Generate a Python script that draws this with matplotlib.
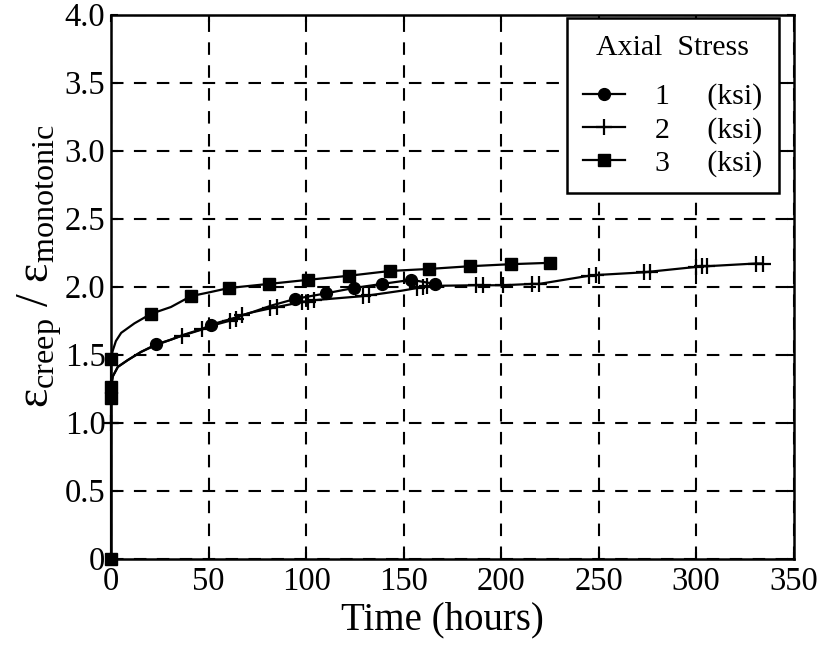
import numpy as np
import matplotlib.pyplot as plt

# =========================================
# Data
# =========================================
# series 1 (1 ksi, circles)
t1 = [0, 0.9, 3.5, 8.6, 15.4, 23, 30.7, 37, 47, 51, 61, 72, 82,
      94.5, 110, 124.5, 139, 154, 166]
y1 = [1.26, 1.34, 1.41, 1.46, 1.52, 1.575, 1.61, 1.645, 1.69, 1.72, 1.76,
      1.81, 1.86, 1.91, 1.95, 1.99, 2.02, 2.05, 2.02]
mark1 = [5, 9, 13, 14, 15, 16, 17, 18]

# series 2 (2 ksi, plus)
t2 = [0, 0, 0.9, 3.5, 8.6, 15.4, 23, 30.7, 36.6, 46.8, 51, 61, 64, 67, 72,
      81.7, 85, 92, 98, 101, 104, 129, 132, 149, 157, 160, 162, 187, 190.6,
      200.8, 216, 219.5, 245, 248.4, 273, 276.4, 300, 303, 305.4, 330.5, 334]
y2 = [1.0, 1.26, 1.34, 1.41, 1.46, 1.52, 1.57, 1.61, 1.64, 1.685, 1.71, 1.75,
      1.76, 1.79, 1.81, 1.84, 1.85, 1.87, 1.89, 1.89, 1.90, 1.93, 1.935, 1.97,
      1.99, 2.0, 2.005, 2.01, 2.01, 2.01, 2.02, 2.02, 2.08, 2.085, 2.105,
      2.11, 2.145, 2.15, 2.15, 2.17, 2.17]
mark2 = [0, 8, 9, 11, 12, 13, 15, 16, 18, 19, 20, 21, 22, 24, 25, 26, 27,
         28, 29, 30, 31, 32, 33, 34, 35, 36, 37, 38, 39, 40]

# series 3 (3 ksi, squares)
t3 = [0, 0, 0, 0, 0.9, 2.5, 5.2, 12, 20.5, 30.7, 41, 51, 60.5, 81, 101,
      122, 143, 163, 184, 205, 225]
y3 = [0, 1.18, 1.26, 1.47, 1.53, 1.6, 1.66, 1.73, 1.80, 1.85, 1.93, 1.96,
      1.99, 2.02, 2.05, 2.08, 2.115, 2.13, 2.15, 2.165, 2.175]
mark3 = [0, 1, 2, 3, 8, 10, 12, 13, 14, 15, 16, 17, 18, 19, 20]

labels = ['1     (ksi)', '2     (ksi)', '3     (ksi)']
x_ticks = [0, 50, 100, 150, 200, 250, 300, 350]
y_ticks = [0, 0.5, 1.0, 1.5, 2.0, 2.5, 3.0, 3.5, 4.0]
y_ticklabels = ['0', '0.5', '1.0', '1.5', '2.0', '2.5', '3.0', '3.5', '4.0']

# =========================================
# Style
# =========================================
plt.rcParams['font.family'] = ['Liberation Serif', 'DejaVu Serif']
plt.rcParams['mathtext.fontset'] = 'custom'
plt.rcParams['mathtext.rm'] = 'Liberation Serif'
plt.rcParams['mathtext.it'] = 'Liberation Serif:italic'

fig = plt.figure(figsize=(8.2, 6.47), dpi=100)
ax = fig.add_axes([0.1354, 0.1366, 0.8326, 0.8408])

ax.plot(t1, y1, color='black', lw=1.6, marker='o', ms=8.5,
        markevery=mark1, label=labels[0], clip_on=False, zorder=3)
ax.plot(t2, y2, color='black', lw=1.6, marker='+', ms=11, mew=1.6,
        markevery=mark2, label=labels[1], clip_on=False, zorder=3)
ax.plot(t3, y3, color='black', lw=1.6, marker='s', ms=8,
        markevery=mark3, label=labels[2], clip_on=False, zorder=3)

ax.set_xlim(0, 350)
ax.set_ylim(0, 4.0)
ax.set_xticks(x_ticks)
ax.set_yticks(y_ticks)
ax.set_yticklabels(y_ticklabels)
ax.tick_params(direction='in', length=5, width=1.5, labelsize=23.5,
               top=True, right=True, pad=4)
ax.tick_params(axis='x', pad=6)
ax.grid(True, color='black', lw=1.5, ls=(0, (6, 5)))
for s in ax.spines.values():
    s.set_linewidth(1.8)

ax.set_xlabel('Time (hours)', fontsize=28)
ax.xaxis.set_label_coords(0.485, -0.078)
ax.set_ylabel(r'ε$_{\mathrm{creep}}$ / ε$_{\mathrm{monotonic}}$',
              fontsize=33)
ax.yaxis.set_label_coords(-0.069, 0.538)

leg = ax.legend(loc='upper right', bbox_to_anchor=(0.978, 0.993),
                borderaxespad=0, title='Axial  Stress', fontsize=21.5,
                title_fontsize=21.5, frameon=True, fancybox=False,
                edgecolor='black', handlelength=1.4, handletextpad=1.0,
                borderpad=0.55, labelspacing=0.2)
leg.get_frame().set_linewidth(1.8)
leg.get_frame().set_alpha(1)
leg._legend_box.sep = 16

fig.savefig('out.png', dpi=100)
